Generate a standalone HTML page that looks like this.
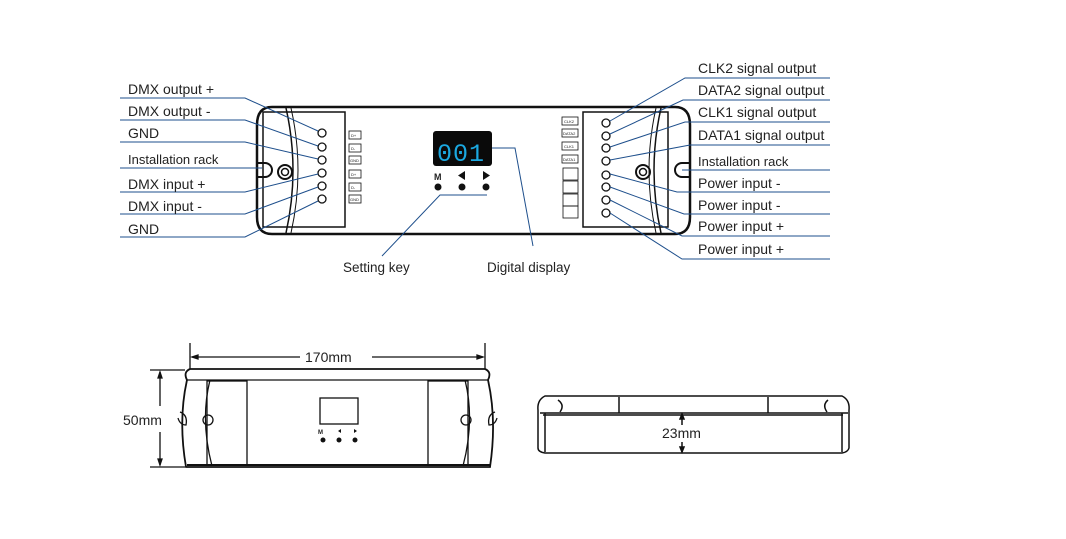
<!DOCTYPE html>
<html><head><meta charset="utf-8"><style>
html,body{margin:0;padding:0;background:#fff;}
svg{display:block;}
text{font-family:"Liberation Sans","DejaVu Sans",sans-serif;fill:#222;}
.l{font-size:14px;}
.b{stroke:#1e4f8c;stroke-width:1;fill:none;}
.k{stroke:#111;fill:none;}
</style></head><body>
<svg width="1066" height="539" viewBox="0 0 1066 539" xmlns="http://www.w3.org/2000/svg">
<path class="k" stroke-width="2.5" d="M272,107 H675 Q690,107 690,125 V217 Q690,234 675,234 H272 Q257,234 257,217 V125 Q257,107 272,107 Z" fill="#fff"/>
<path class="k" stroke-width="1.5" d="M286,108 Q300,170 286,233"/>
<path class="k" stroke-width="1" d="M291,108 Q305,170 291,233"/>
<path class="k" stroke-width="1.5" d="M661,108 Q647,170 661,233"/>
<path class="k" stroke-width="1" d="M656,108 Q642,170 656,233"/>
<rect class="k" stroke-width="1.5" x="263" y="112" width="82" height="115"/>
<rect class="k" stroke-width="1.5" x="583" y="112" width="85" height="115"/>
<path class="k" stroke-width="2" d="M257,163 H265 A7,7 0 0 1 265,177 H257"/>
<path class="k" stroke-width="2" d="M690,163 H682 A7,7 0 0 0 682,177 H690"/>
<circle class="k" stroke-width="2" cx="285" cy="172" r="7"/><circle class="k" stroke-width="1.5" cx="285" cy="172" r="3.5"/>
<circle class="k" stroke-width="2" cx="643" cy="172" r="7"/><circle class="k" stroke-width="1.5" cx="643" cy="172" r="3.5"/>
<g class="k" stroke-width="1.3">
<circle cx="322" cy="133" r="4"/><circle cx="322" cy="147" r="4"/><circle cx="322" cy="160" r="4"/>
<circle cx="322" cy="173" r="4"/><circle cx="322" cy="186" r="4"/><circle cx="322" cy="199" r="4"/>
</g>
<g class="k" stroke-width="0.8">
<rect x="349" y="131" width="12" height="8"/><rect x="349" y="144" width="12" height="8"/><rect x="349" y="156" width="12" height="8"/>
<rect x="349" y="170" width="12" height="8"/><rect x="349" y="183" width="12" height="8"/><rect x="349" y="195" width="12" height="8"/>
</g>
<g font-size="4"><text x="351" y="137">D+</text><text x="351" y="150">D-</text><text x="350" y="162">GND</text><text x="351" y="176">D+</text><text x="351" y="189">D-</text><text x="350" y="201">GND</text></g>
<g class="k" stroke-width="1.3">
<circle cx="606" cy="123" r="4"/><circle cx="606" cy="136" r="4"/><circle cx="606" cy="148" r="4"/><circle cx="606" cy="161" r="4"/>
<circle cx="606" cy="175" r="4"/><circle cx="606" cy="187" r="4"/><circle cx="606" cy="200" r="4"/><circle cx="606" cy="213" r="4"/>
</g>
<g class="k" stroke-width="0.8">
<rect x="562" y="117" width="16" height="8"/><rect x="562" y="129" width="16" height="8"/><rect x="562" y="142" width="16" height="8"/><rect x="562" y="155" width="16" height="8"/>
<rect x="563" y="168" width="15" height="12"/><rect x="563" y="181" width="15" height="12"/><rect x="563" y="194" width="15" height="12"/><rect x="563" y="206" width="15" height="12"/>
</g>
<g font-size="4"><text x="564" y="123">CLK2</text><text x="563" y="135">DATA2</text><text x="564" y="148">CLK1</text><text x="563" y="161">DATA1</text></g>
<rect x="433" y="131" width="59" height="35" rx="3" fill="#0a0a0a"/>
<text x="437" y="161" font-size="25" style="fill:#1ba8e0;font-family:'Liberation Mono',monospace" letter-spacing="1">001</text>
<text x="434" y="180" font-size="9" font-weight="bold">M</text>
<path d="M465,171 L458,175.5 L465,180 Z" fill="#111"/><path d="M483,171 L490,175.5 L483,180 Z" fill="#111"/>
<circle cx="438" cy="187" r="3.5" fill="#111"/><circle cx="462" cy="187" r="3.5" fill="#111"/><circle cx="486" cy="187" r="3.5" fill="#111"/>
<g class="b">
<path d="M120,98 H245 L318,131"/>
<path d="M120,120 H245 L318,146"/>
<path d="M120,142 H245 L318,159"/>
<path d="M120,168 H262"/>
<path d="M120,192 H245 L318,174"/>
<path d="M120,214 H245 L318,187"/>
<path d="M120,237 H245 L318,201"/>
<path d="M487,195 H440 L382,256"/>
<path d="M492,148 H515 L533,246"/>
</g>
<g class="l">
<text x="128" y="94">DMX output +</text>
<text x="128" y="116">DMX output -</text>
<text x="128" y="138">GND</text>
<text x="128" y="164" font-size="13">Installation rack</text>
<text x="128" y="189">DMX input +</text>
<text x="128" y="211">DMX input -</text>
<text x="128" y="234">GND</text>
<text x="343" y="272" font-size="13.5">Setting key</text>
<text x="487" y="272" font-size="13.5">Digital display</text>
</g>
<g class="b">
<path d="M830,78 H685 L610,121"/>
<path d="M830,100 H683 L610,134"/>
<path d="M830,122 H685 L610,147"/>
<path d="M830,145 H690 L610,160"/>
<path d="M830,170 H682"/>
<path d="M830,192 H677 L610,174"/>
<path d="M830,214 H684 L610,187"/>
<path d="M830,236 H682 L610,200"/>
<path d="M830,259 H682 L610,213"/>
</g>
<g class="l">
<text x="698" y="73">CLK2 signal output</text>
<text x="698" y="95">DATA2 signal output</text>
<text x="698" y="117">CLK1 signal output</text>
<text x="698" y="140">DATA1 signal output</text>
<text x="698" y="166" font-size="13">Installation rack</text>
<text x="698" y="188">Power input -</text>
<text x="698" y="210">Power input -</text>
<text x="698" y="231">Power input +</text>
<text x="698" y="254">Power input +</text>
</g>
<g class="k" stroke-width="1.3">
<line x1="190" y1="343" x2="190" y2="372"/><line x1="485" y1="343" x2="485" y2="372"/>
<line x1="192" y1="357" x2="300" y2="357"/><line x1="372" y1="357" x2="483" y2="357"/>
<path d="M192,357 l6,-2 v4 Z M483,357 l-6,-2 v4 Z" fill="#111"/>
<line x1="150" y1="370" x2="185" y2="370"/><line x1="150" y1="467" x2="185" y2="467"/>
<line x1="160" y1="372" x2="160" y2="406"/><line x1="160" y1="432" x2="160" y2="465"/>
<path d="M160,372 l-2,6 h4 Z M160,465 l-2,-6 h4 Z" fill="#111"/>
<path stroke-width="1.8" d="M190,369 H485 Q492,372 488,380 Q497,420 490,467 H186 Q178,420 187,380 Q183,372 190,369 Z" fill="#fff"/>
<line x1="187" y1="380" x2="488" y2="380"/>
<line x1="187" y1="465" x2="490" y2="465" stroke-width="2"/>
<path d="M210,380 Q200,420 212,466"/><path d="M465,380 Q475,420 463,466"/>
<rect x="207" y="381" width="40" height="84" fill="none"/>
<rect x="428" y="381" width="40" height="84" fill="none"/>
<rect x="320" y="398" width="38" height="26"/>
<path d="M180,412 Q188,415 186,425 Q180,425 178,418"/>
<path d="M495,412 Q487,415 489,425 Q495,425 497,418"/>
<circle cx="208" cy="420" r="5"/><circle cx="466" cy="420" r="5"/>
</g>
<text x="123" y="425" font-size="14">50mm</text>
<text x="305" y="362" font-size="14">170mm</text>
<text x="318" y="434" font-size="6" font-weight="bold">M</text>
<path d="M341,429 l-3,2 l3,2Z M354,429 l3,2 l-3,2Z" fill="#111"/>
<circle cx="323" cy="440" r="2.5" fill="#111"/><circle cx="339" cy="440" r="2.5" fill="#111"/><circle cx="355" cy="440" r="2.5" fill="#111"/>
<g class="k" stroke-width="1.5">
<path d="M545,396 H842 Q850,400 849,410 V448 Q848,452 842,453 H545 Q538,452 538,448 V410 Q537,400 545,396 Z" fill="#fff"/>
<line x1="540" y1="413" x2="848" y2="413"/>
<line x1="543" y1="415" x2="843" y2="415"/>
<line x1="545" y1="413" x2="545" y2="452"/><line x1="842" y1="413" x2="842" y2="452"/>
<line x1="619" y1="397" x2="619" y2="413"/><line x1="768" y1="397" x2="768" y2="413"/>
<line x1="682" y1="414" x2="682" y2="425"/><line x1="682" y1="442" x2="682" y2="452"/>
<path d="M682,414 l-2,5 h4 Z M682,452 l-2,-5 h4Z" fill="#111"/>
<path d="M558,400 Q565,405 560,412"/><path d="M828,400 Q822,405 827,412"/>
</g>
<text x="662" y="438" font-size="14">23mm</text>
</svg>
</body></html>
